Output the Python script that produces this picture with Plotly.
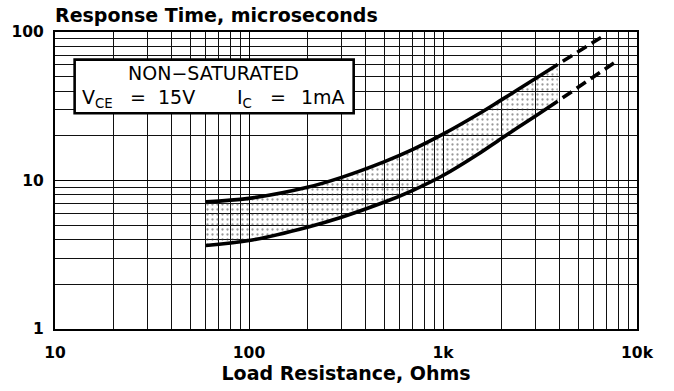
import plotly.graph_objects as go

# Load resistance (ohms) and response time (microseconds)
r_upper = [60, 100, 200, 300, 500, 700, 1000, 1500, 2000, 3000, 3900]
t_upper = [7.2, 7.58, 9.0, 10.5, 13.4, 16.2, 20.5, 27.7, 34.9, 48.6, 60.5]
r_lower = [60, 100, 200, 300, 500, 700, 1000, 1500, 2000, 3000, 3900]
t_lower = [3.65, 3.94, 4.85, 5.66, 7.16, 8.59, 10.8, 14.9, 19.2, 27.2, 34.2]

# Extrapolated (dashed) continuations
r_upper_ext = [3900, 6800]
t_upper_ext = [60.5, 95]
r_lower_ext = [3900, 7900]
t_lower_ext = [34.2, 64]

x_ticks = [10, 100, 1000, 10000]
x_labels = ["10", "100", "1k", "10k"]
y_ticks = [1, 10, 100]
y_labels = ["1", "10", "100"]
x_minor = [m * d for d in (10, 100, 1000) for m in range(2, 10)]
y_minor = [m * d for d in (1, 10) for m in range(2, 10)]

W, H = 674, 391
L, R, T, B = 53, 37, 32, 58
PW, PH = W - L - R, H - T - B


def px_x(p):
    return (p - L) / PW


def px_y(p):
    return (T + PH - p) / PH


BOLD = dict(family="DejaVu Sans", weight="bold", color="black")
CURVE = dict(color="black", width=3.6, shape="spline", smoothing=1.0)

fig = go.Figure()
fig.add_trace(go.Scatter(x=r_lower, y=t_lower, mode="lines", line=CURVE,
                         showlegend=False, hoverinfo="skip"))
fig.add_trace(go.Scatter(x=r_upper, y=t_upper, mode="lines", line=CURVE,
                         fill="tonexty", fillcolor="rgba(0,0,0,0)",
                         fillpattern=dict(shape=".", size=5, solidity=0.17,
                                          fgcolor="#333", bgcolor="rgba(0,0,0,0)"),
                         showlegend=False, hoverinfo="skip"))
for xs, ys in ((r_upper_ext, t_upper_ext), (r_lower_ext, t_lower_ext)):
    fig.add_trace(go.Scatter(x=xs, y=ys, mode="lines",
                             line=dict(color="black", width=3.6, dash="0px,6px,11px,0px"),
                             showlegend=False, hoverinfo="skip"))

grid = dict(showgrid=True, gridcolor="black", gridwidth=1.4,
            showline=True, linecolor="black", linewidth=2, mirror=True,
            ticks="", zeroline=False)

fig.update_xaxes(type="log", range=[1, 4], tickmode="array", tickvals=x_ticks,
                 ticktext=x_labels, tickfont=dict(size=15.5, **BOLD),
                 ticklabelstandoff=8,
                 minor=dict(tickmode="array", tickvals=x_minor, showgrid=True,
                            gridcolor="#111", gridwidth=1.3, ticks=""),
                 title=dict(text="Load Resistance, Ohms", font=dict(size=19, **BOLD),
                            standoff=4),
                 **grid)
fig.update_yaxes(type="log", range=[0, 2], tickmode="array", tickvals=y_ticks,
                 ticktext=y_labels, tickfont=dict(size=15.5, **BOLD),
                 ticklabelstandoff=6,
                 minor=dict(tickmode="array", tickvals=y_minor, showgrid=True,
                            gridcolor="#111", gridwidth=1.3, ticks=""),
                 **grid)

# Condition box
fig.add_shape(type="rect", xref="paper", yref="paper",
              x0=px_x(72.7), x1=px_x(352.7), y0=px_y(114.3), y1=px_y(60),
              line=dict(color="black", width=2.6), fillcolor="white", layer="above")

NORMAL = dict(family="DejaVu Sans", size=19, color="black")


def box_text(text, x, y, anchor):
    fig.add_annotation(xref="paper", yref="paper", x=px_x(x), y=px_y(y),
                       xanchor=anchor, yanchor="middle", showarrow=False,
                       text=text, font=NORMAL)


box_text("NON\u2212SATURATED", 212.5, 74, "center")
box_text("V<sub>CE</sub>", 78, 99.5, "left")
box_text("=", 136.7, 97.5, "center")
box_text("15V", 154, 97.5, "left")
box_text("I<sub>C</sub>", 234, 99.5, "left")
box_text("=", 276.7, 97.5, "center")
box_text("1mA", 346, 97.5, "right")

# Chart heading
fig.add_annotation(xref="paper", yref="paper", x=px_x(51), y=px_y(14.5),
                   xanchor="left", yanchor="middle", showarrow=False,
                   text="Response Time, microseconds", font=dict(size=19, **BOLD))

fig.update_layout(width=W, height=H, margin=dict(l=L, r=R, t=T, b=B),
                  paper_bgcolor="white", plot_bgcolor="white")

fig.write_html("out.html")
